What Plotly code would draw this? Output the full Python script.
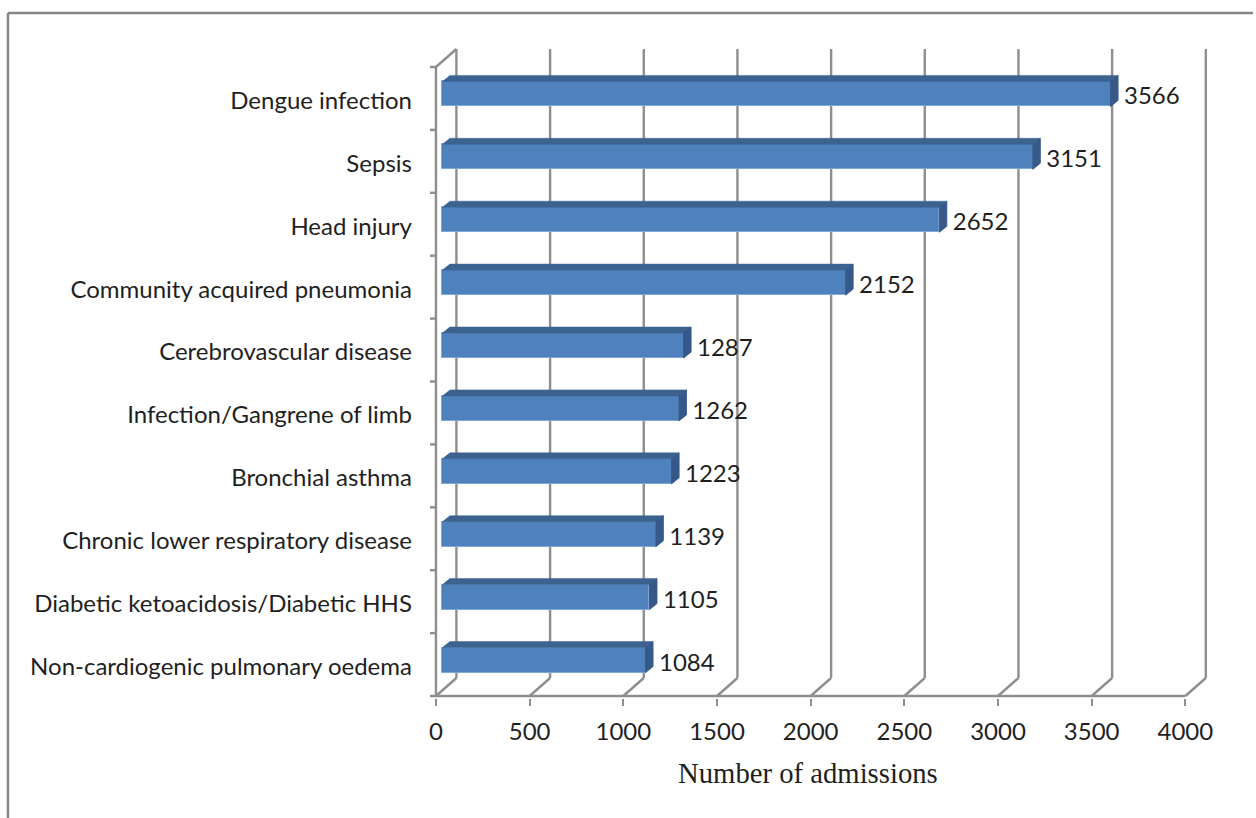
import plotly.graph_objects as go

categories = ["Non-cardiogenic pulmonary oedema", "Diabetic ketoacidosis/Diabetic HHS",
              "Chronic lower respiratory disease", "Bronchial asthma",
              "Infection/Gangrene of limb", "Cerebrovascular disease",
              "Community acquired pneumonia", "Head injury", "Sepsis", "Dengue infection"]
admissions = [1084, 1105, 1139, 1223, 1262, 1287, 2152, 2652, 3151, 3566]
x_ticks = [0, 500, 1000, 1500, 2000, 2500, 3000, 3500, 4000]

W, H = 1256, 818
PX_X = 0.1878          # px per data unit
PX_Y = 62.9            # px per category band
X0_PX, Y0_PX = 437, 696
LEFT_PX, RIGHT_PX, TOP_PX, BOTTOM_PX = 426, 1213, 47, 698

def ux(px): return px / PX_X
def uy(px): return px / PX_Y

wall_dx, wall_dy = ux(20.5), uy(18)
bar_base = ux(6.5)
bar_dx, bar_dy = ux(7.5), uy(6)
bar_h = uy(25)
bar_c = uy(36)
label_shift = uy(29.5)

GRID = "#8e8e8e"
FRONT, TOP, SIDE, EDGE = "#4f81bd", "#3c6390", "#36598a", "#7fa6d6"
TEXT = "#1f1f1f"
FONT = "Lato"

shapes = []
def seg(x0, y0, x1, y1, w=2.4, color=GRID):
    shapes.append(dict(type="line", xref="x", yref="y", x0=x0, y0=y0, x1=x1, y1=y1,
                       layer="below", line=dict(color=color, width=w)))

n = len(categories)
for t in x_ticks:
    seg(t, 0, t + wall_dx, wall_dy)
    seg(t + wall_dx, wall_dy, t + wall_dx, n + wall_dy)
seg(0, 0, 0, n)
seg(0, n, wall_dx, n + wall_dy)
seg(-ux(6), 0, x_ticks[-1], 0)
for i in range(1, n + 1):
    seg(-ux(6), i, 0, i)

# Outer frame of the figure
for x0, y0, x1, y1 in [(8 / W, 1 - 13 / H, 1, 1 - 13 / H), (8 / W, 1 - 13 / H, 8 / W, 0)]:
    shapes.append(dict(type="line", xref="paper", yref="paper", x0=x0, y0=y0, x1=x1, y1=y1,
                       line=dict(color="#858585", width=2.5)))

fig = go.Figure()
centers = [i + bar_c for i in range(n)]
fig.add_trace(go.Bar(
    y=centers, x=admissions, base=bar_base, orientation="h", width=bar_h,
    marker=dict(color=FRONT, line=dict(color=EDGE, width=1)), showlegend=False,
    hoverinfo="skip"))

for v, c in zip(admissions, centers):
    r = bar_base + v
    top, bot = c + bar_h / 2, c - bar_h / 2
    fig.add_trace(go.Scatter(
        x=[bar_base, bar_base + bar_dx, r + bar_dx, r, bar_base],
        y=[top, top + bar_dy, top + bar_dy, top, top],
        mode="lines", fill="toself", fillcolor=TOP, line=dict(color=TOP, width=0.5),
        showlegend=False, hoverinfo="skip"))
    fig.add_trace(go.Scatter(
        x=[r, r + bar_dx, r + bar_dx, r, r],
        y=[top, top + bar_dy, bot + bar_dy, bot, top],
        mode="lines", fill="toself", fillcolor=SIDE, line=dict(color=SIDE, width=1),
        showlegend=False, hoverinfo="skip"))

fig.add_trace(go.Scatter(
    x=[bar_base + v + ux(13.5) for v in admissions], y=[c - uy(4.5) for c in centers],
    text=[str(v) for v in admissions], mode="text", textposition="middle right",
    textfont=dict(family=FONT, size=24, color=TEXT), showlegend=False, hoverinfo="skip",
    cliponaxis=False))

fig.add_annotation(x=ux(810 - X0_PX), xref="x", y=1 - 773 / H, yref="paper",
                   xanchor="center", yanchor="middle",
                   text="Number of admissions", showarrow=False,
                   font=dict(family="Liberation Serif", size=28.7, color=TEXT))

fig.update_layout(
    width=W, height=H, margin=dict(l=0, r=0, t=0, b=0), bargap=0,
    paper_bgcolor="white", plot_bgcolor="white", shapes=shapes,
    font=dict(family=FONT, size=24, color=TEXT),
    xaxis=dict(domain=[LEFT_PX / W, RIGHT_PX / W],
               range=[ux(LEFT_PX - X0_PX), ux(RIGHT_PX - X0_PX)],
               tickmode="array", tickvals=x_ticks, ticktext=[str(t) for t in x_ticks],
               ticks="outside", ticklen=7, tickwidth=2, tickcolor=GRID,
               showgrid=False, zeroline=False, showline=False, ticklabelstandoff=5),
    yaxis=dict(domain=[1 - BOTTOM_PX / H, 1 - TOP_PX / H],
               range=[uy(Y0_PX - BOTTOM_PX), uy(Y0_PX - TOP_PX)],
               tickmode="array", tickvals=[i + label_shift for i in range(n)],
               ticktext=categories, ticks="", showgrid=False, zeroline=False,
               showline=False, ticklabelstandoff=12),
)
fig.write_html("out.html", config={"displayModeBar": False}, post_script=(
    "document.body.style.margin='0';"
    "document.body.style.overflow='hidden';"
    "document.body.style.fontVariantLigatures='none';"
))
